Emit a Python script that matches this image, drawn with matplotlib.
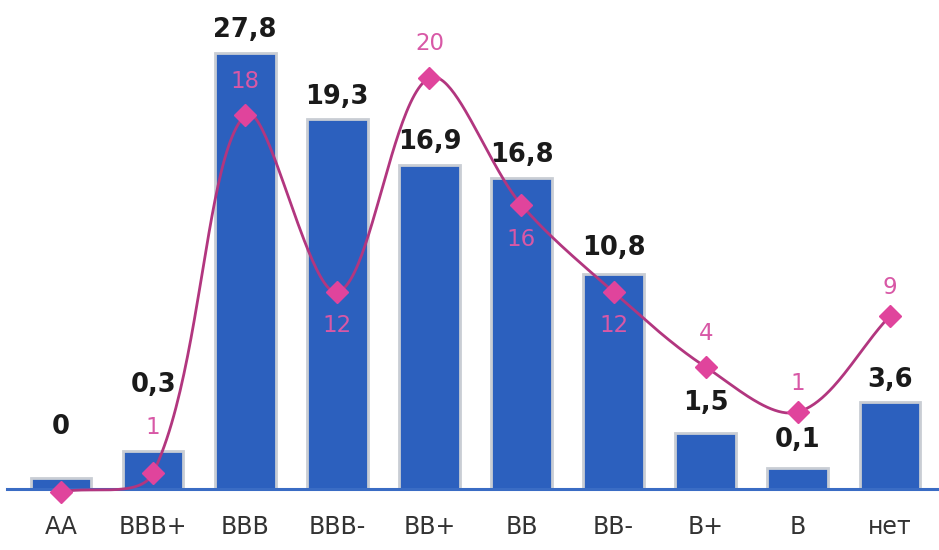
import numpy as np
import matplotlib
matplotlib.use("Agg")
import matplotlib.pyplot as plt

# ---- data ----
categories = ["AA", "BBB+", "BBB", "BBB-", "BB+", "BB", "BB-", "B+", "B", "нет"]
bar_labels = ["0", "0,3", "27,8", "19,3", "16,9", "16,8", "10,8", "1,5", "0,1", "3,6"]
bar_heights = [0.7, 2.4, 27.25, 23.1, 20.25, 19.45, 13.45, 3.5, 1.3, 5.45]
line_labels = ["1", "1", "18", "12", "20", "16", "12", "4", "1", "9"]
line_values = [-0.15, 0.8, 18.7, 9.85, 20.55, 14.2, 9.85, 6.1, 3.85, 8.65]

# label placement (px offsets, negative = below)
bar_label_off_px = [51, 66, 23, 22, 23, 23, 26, 30, 28, 22]
line_label_off_px = [32, 45, 34, -33, 34, -35, -33, 34, 29, 29]

BLUE = "#2C60BE"
EDGE = "#c9cdd4"
LINE = "#B2367F"
MARK = "#E0449C"
PINK = "#D858A6"

W, H = 939, 550
fig = plt.figure(figsize=(W / 100, H / 100), dpi=100)
ax = fig.add_axes([7 / W, 61 / H, 1 - 7 / W, 489 / H])
x = np.arange(len(categories))
ax.set_xlim(-0.586, 9.533)
ax.set_ylim(0, 30.56)

ax.bar(x, bar_heights, width=0.66, color=BLUE, edgecolor=EDGE, linewidth=2.0, zorder=2)

pt = 72 / 100  # px -> pt
for xi, h, lab, off in zip(x, bar_heights, bar_labels, bar_label_off_px):
    ax.annotate(lab, (xi, h), xytext=(0, off * pt), textcoords="offset points",
                ha="center", va="center", fontsize=18.5, fontweight="bold",
                color="#1a1a1a", family="DejaVu Sans", zorder=5)

for s in ["top", "right", "left"]:
    ax.spines[s].set_visible(False)
ax.spines["bottom"].set_color("#3a6cc4")
ax.spines["bottom"].set_linewidth(2.2)
ax.set_yticks([])
ax.set_xticks(x)
ax.set_xticklabels(categories, fontsize=17, color="#333333", family="DejaVu Sans")
ax.tick_params(axis="x", length=0, pad=19)

# secondary axis for the line
ax2 = ax.twinx()
ax2.set_ylim(0, 24.45)
ax2.set_xlim(ax.get_xlim())
ax2.axis("off")

# smoothed curve through the points, length-weighted tangents in pixel space
SX, SY = 92.1, 20.0
P = np.column_stack([x * SX, np.array(line_values) * SY]).astype(float)
n = len(P)
d = np.linalg.norm(np.diff(P, axis=0), axis=1)
t = np.linspace(0, 1, 50)
curve = []
for i in range(n - 1):
    p1, p2 = P[i], P[i + 1]
    # outgoing control at p1
    if i == 0:
        c1 = p1 + (p2 - p1) / 3
    else:
        T = P[i + 1] - P[i - 1]
        c1 = p1 + T * (1 / 3) * d[i] / (d[i - 1] + d[i])
    # incoming control at p2
    if i + 1 == n - 1:
        c2 = p2 - (p2 - p1) / 3
    else:
        T = P[i + 2] - P[i]
        c2 = p2 - T * (1 / 3) * d[i] / (d[i] + d[i + 1])
    for tt in t:
        b = ((1 - tt) ** 3) * p1 + 3 * ((1 - tt) ** 2) * tt * c1 + 3 * (1 - tt) * tt ** 2 * c2 + tt ** 3 * p2
        curve.append(b)
curve = np.array(curve)
ax2.plot(curve[:, 0] / SX, curve[:, 1] / SY, color=LINE, linewidth=2.0, zorder=3, clip_on=False)
ax2.plot(x, line_values, linestyle="none", marker="D", markersize=11.5, color=MARK,
         markeredgecolor=MARK, zorder=4, clip_on=False)
for xi, yv, lab, off in zip(x, line_values, line_labels, line_label_off_px):
    ax2.annotate(lab, (xi, yv), xytext=(0, off * pt), textcoords="offset points",
                 ha="center", va="center", fontsize=16.5, color=PINK,
                 family="DejaVu Sans", zorder=5)

fig.savefig("out.png", dpi=100)
